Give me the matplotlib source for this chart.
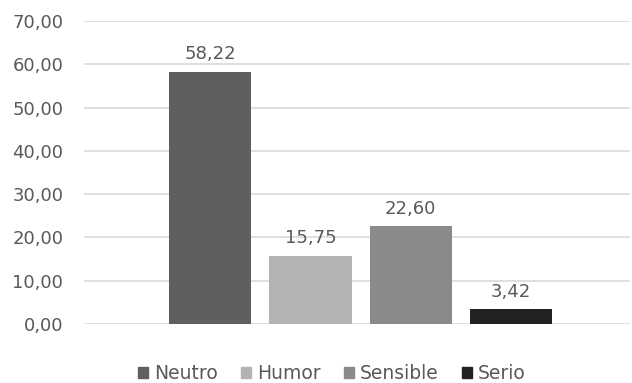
import matplotlib.pyplot as plt
from matplotlib.patches import Patch

categorias = ['Neutro', 'Humor', 'Sensible', 'Serio']
valores = [58.22, 15.75, 22.60, 3.42]
colores = ['#5f5f5f', '#b3b3b3', '#8a8a8a', '#222222']
ticks_y = [0, 10, 20, 30, 40, 50, 60, 70]

texto = '#595959'

fig = plt.figure(figsize=(6.32, 3.83), dpi=100)
ax = fig.add_axes([0.133, 0.154, 0.864, 0.791])

pos = list(range(len(categorias)))
ax.bar(pos, valores, width=0.82, color=colores, zorder=3)

for x, v in zip(pos, valores):
    ax.text(x, v + 2.0, f'{v:.2f}'.replace('.', ','), ha='center', va='bottom',
            fontsize=13, color=texto)

ax.set_ylim(0, 70)
ax.set_xlim(-1.26, 4.19)
ax.set_yticks(ticks_y)
ax.set_yticklabels([f'{t:.2f}'.replace('.', ',') for t in ticks_y], fontsize=13, color=texto)
ax.set_xticks([])
ax.tick_params(axis='y', length=0, pad=15)
ax.grid(axis='y', color='#d9d9d9', linewidth=1.2, zorder=0)
for s in ax.spines.values():
    s.set_visible(False)

handles = [Patch(color=c, label=n) for c, n in zip(colores, categorias)]
fig.legend(handles=handles, loc='center', bbox_to_anchor=(0.525, 0.025), ncol=4,
           frameon=False, fontsize=13.5, labelcolor=texto, handlelength=0.55,
           handleheight=0.55, handletextpad=0.3, columnspacing=1.25)

fig.savefig('out.png', dpi=100)
